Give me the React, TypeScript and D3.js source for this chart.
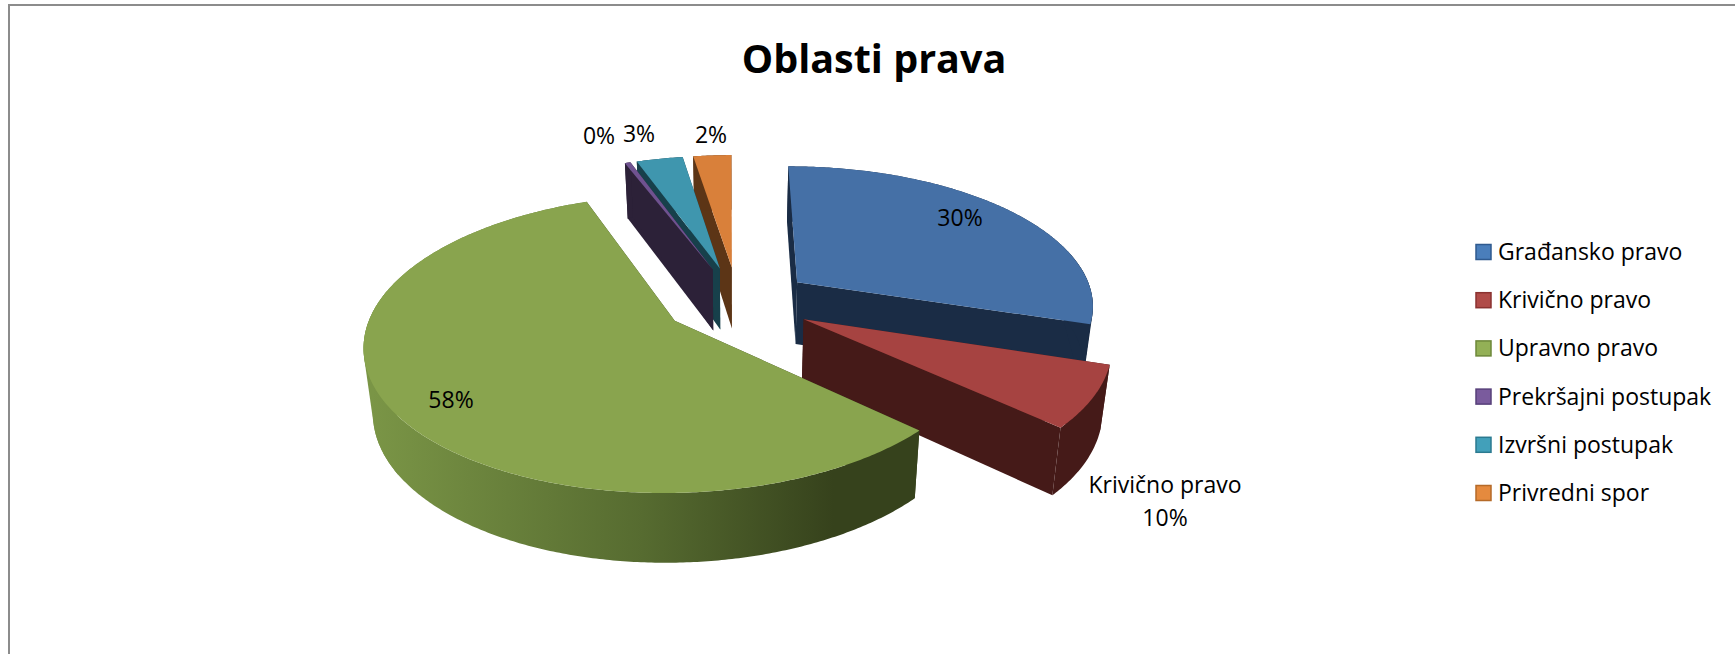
import React from "react";
import * as d3 from "d3";

const categories = ["Građansko pravo", "Krivično pravo", "Upravno pravo", "Prekršajni postupak", "Izvršni postupak", "Privredni spor"];
const sliceValues = [29.92, 6.94, 57.36, 0.36, 2.97, 2.44];
const sliceLabels = ["30%", "10%", "58%", "0%", "3%", "2%"];
const topColors = ["#4570a6", "#a64341", "#89a44e", "#6f5290", "#3f96ae", "#d9803a"];
const wallColors = ["#1a2c45", "#451a18", "#36421c", "#2c2138", "#17404b", "#5c3516"];
const legendFills = ["#4a7ebb", "#b04b48", "#93b056", "#7a5b9d", "#42a0ba", "#e58a3e"];
const legendStrokes = ["#2f5a8f", "#8a3230", "#6d883a", "#57407a", "#2b7a90", "#b56a28"];

const W = 1735, H = 654;
const FONT = "'Open Sans', 'Noto Sans', sans-serif";
const CX = 735.3, CY = 300.8, RX = 297, RY = 138.5, P = 0.15, EXPLODE = 0.25;
const nudgeX = [0.011, 0.009, 0.007, 0.008, 0.008, 0.008];
const nudgeY = [0.012, 0.005, 0, 0, 0, 0];
const radiusScale = [1, 1, 1.008, 1, 1, 1];

const wOf = (Y: number) => 1 - P * Y;
const top = (X: number, Y: number): [number, number] => [CX + (RX * X) / wOf(Y), CY + (RY * Y) / wOf(Y)];
const bottom = (X: number, Y: number): [number, number] => {
  const [x, y] = top(X, Y);
  return [CX + (x - CX) * 0.975, y + 62.5 - 42 * (wOf(Y) - 1)];
};

const pie = d3.pie<number>().sort(null).startAngle((-0.2 * Math.PI) / 180).endAngle((359.8 * Math.PI) / 180);
const arcs = pie(sliceValues);
const line = d3.line();
const drawOrder = [5, 4, 3, 0, 1, 2];

const sliceGeometry = (i: number) => {
  const a = arcs[i];
  const mid = (a.startAngle + a.endAngle) / 2;
  const ox = EXPLODE * Math.sin(mid) + nudgeX[i], oy = -EXPLODE * Math.cos(mid) + nudgeY[i];
  const n = Math.max(2, Math.ceil((a.endAngle - a.startAngle) / 0.01));
  const r = radiusScale[i];
  const rim: [number, number][] = d3.range(n + 1).map((k) => {
    const t = a.startAngle + ((a.endAngle - a.startAngle) * k) / n;
    return [ox + r * Math.sin(t), oy - r * Math.cos(t)];
  });
  return { apex: [ox, oy] as [number, number], rim };
};

// The rim folds over where it turns at the far left or right of the ellipse;
// the strip alone leaves a notch there, so a hull of that stretch fills it.
const foldPatches = (rim: [number, number][]) => {
  const xs = rim.map((p) => top(...p)[0]);
  const candidates = [d3.minIndex(xs), d3.maxIndex(xs)].filter((k) => k > 0 && k < rim.length - 1);
  return candidates.map((k) => {
    const part = rim.slice(Math.max(0, k - 40), k + 41);
    const hull = d3.polygonHull([...part.map((p) => top(...p)), ...part.map((p) => bottom(...p))]);
    return hull ? line(hull) + "Z" : "";
  });
};

export default function App() {
  return (
    <svg width={W} height={H} viewBox={`0 0 ${W} ${H}`} style={{ position: "absolute", left: 0, top: 0, display: "block", background: "#fff" }}>
      <defs>
        <linearGradient id="greenWall" gradientUnits="userSpaceOnUse" x1={372} x2={915} y1={0} y2={0}>
          <stop offset="0" stopColor="#7a9546" />
          <stop offset="0.5" stopColor="#566b30" />
          <stop offset="0.85" stopColor="#36421c" />
          <stop offset="1" stopColor="#36421c" />
        </linearGradient>
      </defs>
      <path d={`M9 ${H}V5H${W}`} fill="none" stroke="#8c8c8c" strokeWidth={2} />
      <text x={874} y={73} textAnchor="middle" fontFamily={FONT} fontWeight={700} fontSize={39.5} fill="#000">Oblasti prava</text>

      {drawOrder.map((i) => {
        const { apex, rim } = sliceGeometry(i);
        const first = rim[0], last = rim[rim.length - 1];
        const face = (p: [number, number]) => line([top(...apex), top(...p), bottom(...p), bottom(...apex)]) + "Z";
        const wallPath = line([...rim.map((p) => top(...p)), ...rim.slice().reverse().map((p) => bottom(...p))]) + "Z";
        const topPath = line([top(...apex), ...rim.map((p) => top(...p))]) + "Z";
        const wallFill = i === 2 ? "url(#greenWall)" : wallColors[i];
        return (
          <g key={categories[i]}>
            <path d={face(first)} fill={wallColors[i]} />
            <path d={face(last)} fill={wallColors[i]} />
            {foldPatches(rim).map((d, k) => (
              <path key={k} d={d} fill={wallFill} />
            ))}
            <path d={wallPath} fill={wallFill} />
            <path d={topPath} fill={topColors[i]} />
          </g>
        );
      })}

      <g fontFamily={FONT} fontSize={23} fill="#000" textAnchor="middle">
        <text x={960} y={226}>{sliceLabels[0]}</text>
        <text x={1165} y={493}>{categories[1]}</text>
        <text x={1165} y={526}>{sliceLabels[1]}</text>
        <text x={451} y={408}>{sliceLabels[2]}</text>
        <text x={599} y={144}>{sliceLabels[3]}</text>
        <text x={639} y={142}>{sliceLabels[4]}</text>
        <text x={711} y={143}>{sliceLabels[5]}</text>
      </g>

      {categories.map((c, i) => {
        const y = 252 + i * 48.2;
        return (
          <g key={c}>
            <rect x={1476} y={y - 7.5} width={15} height={15} fill={legendFills[i]} stroke={legendStrokes[i]} strokeWidth={1.5} />
            <text x={1498} y={y + 8} fontFamily={FONT} fontSize={23} fill="#000">{c}</text>
          </g>
        );
      })}
    </svg>
  );
}
